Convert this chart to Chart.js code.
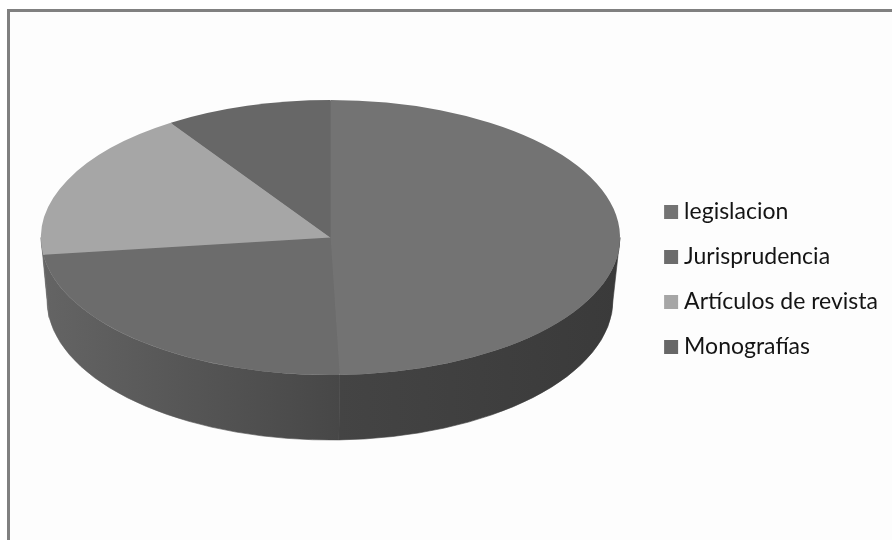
<!DOCTYPE html>
<html><head><meta charset="utf-8">
<style>
html,body{margin:0;padding:0;background:#fff;width:892px;height:540px;overflow:hidden}
#frame{position:absolute;left:7px;top:9px;right:0;bottom:0;border-left:3px solid #808080;border-top:3px solid #808080;background:#fdfdfd}
canvas{position:absolute;left:0;top:0}
</style>
<script src="https://cdn.jsdelivr.net/npm/chart.js@4/dist/chart.umd.min.js"></script>
</head><body>
<div id="frame"></div>
<canvas id="c" width="892" height="540"></canvas>
<script>
const categories = ['legislacion','Jurisprudencia','Artículos de revista','Monografías'];
const values = [49.5,23.5,17.7,9.3];
const colors = ['#737373','#6c6c6c','#a6a6a6','#676767'];
const wallFrom = ['#3a3a3a','#474747','#666666','#5a5a5a'];
const wallTo = ['#444444','#646464','#686868','#5a5a5a'];

const CX=330.5, CY=237.5, RX=289.5, RY=137.5;
const BX=330, BY=300, BRX=283, BRY=140;

const tilt = {
  id:'tilt',
  beforeDatasetsDraw(chart){
    const ctx=chart.ctx, arcs=chart.getDatasetMeta(0).data;
    arcs.forEach((a,i)=>{
      [0,2*Math.PI].forEach(off=>{
        const s1=Math.max(a.startAngle,off), e1=Math.min(a.endAngle,off+Math.PI);
        if(e1<=s1) return;
        const x1=CX+RX*Math.cos(s1), x2=CX+RX*Math.cos(e1);
        const g=ctx.createLinearGradient(x1,0,x2,0);
        g.addColorStop(0,wallFrom[i]); g.addColorStop(1,wallTo[i]);
        ctx.save();
        ctx.fillStyle=g; ctx.strokeStyle=g; ctx.lineWidth=0.6;
        ctx.beginPath();
        ctx.ellipse(CX,CY,RX,RY,0,s1,e1,false);
        ctx.ellipse(BX,BY,BRX,BRY,0,e1,s1,true);
        ctx.closePath();
        ctx.fill(); ctx.stroke();
        ctx.restore();
      });
    });
    // base under the top face so slice joints do not show the page through
    ctx.save();
    ctx.fillStyle='#707070';
    ctx.beginPath();
    ctx.ellipse(CX,CY,RX-1,RY-1,0,0,2*Math.PI);
    ctx.fill();
    ctx.restore();
    const a0=arcs[0];
    ctx.save();
    ctx.translate(CX,CY);
    ctx.scale(RX/a0.outerRadius,RY/a0.outerRadius);
    ctx.translate(-a0.x,-a0.y);
  },
  afterDatasetsDraw(chart){ chart.ctx.restore(); }
};

new Chart(document.getElementById('c'),{
  type:'pie',
  data:{labels:categories,datasets:[{data:values,backgroundColor:colors,borderWidth:0,radius:137.5}]},
  options:{
    responsive:false,animation:false,
    layout:{padding:{top:19,bottom:0,left:0,right:4}},
    plugins:{
      tooltip:{enabled:false},
      legend:{position:'right',labels:{usePointStyle:true,pointStyle:'rect',boxWidth:3,boxHeight:14,padding:22,color:'#141414',font:{family:'Lato',size:23}}}
    }
  },
  plugins:[tilt]
});
</script>
</body></html>
